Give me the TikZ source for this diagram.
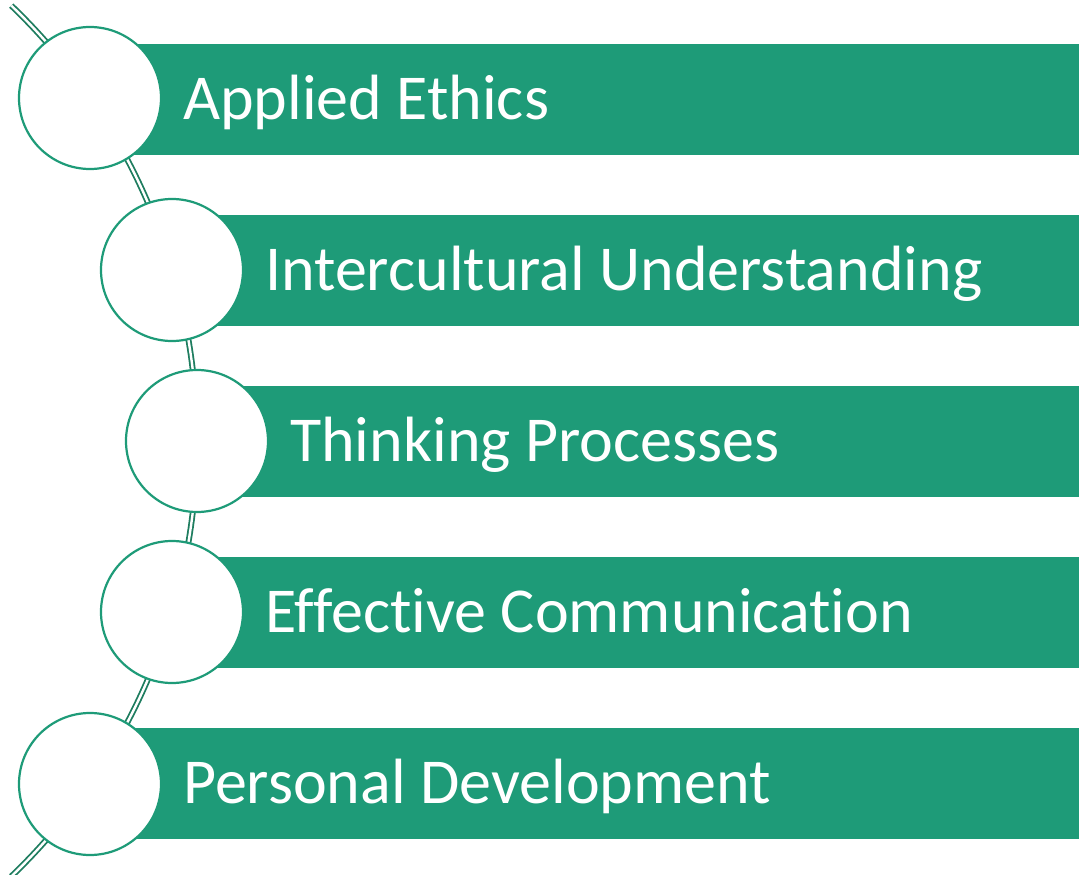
\documentclass[tikz,border=0pt]{standalone}
\usepackage{fontspec}
\setmainfont{Carlito}[Ligatures={NoCommon}]
\definecolor{barg}{RGB}{30,155,120}
\definecolor{lineg}{RGB}{30,125,95}
\begin{document}
\begin{tikzpicture}[x=1pt,y=-1pt,
  bar/.style={fill=barg,draw=none},
  bubble/.style={circle,draw=barg,line width=2.2pt,fill=white,minimum size=142pt,inner sep=0pt},
  label/.style={anchor=base west,text=white,font=\fontsize{64}{76}\selectfont,inner sep=0pt},
  spine/.style={draw=lineg,line width=1.8pt,double=white,double distance=2.4pt}]
\useasboundingbox (0,0) rectangle (1082,875);
% spine arc
\coordinate (C) at (-406.3,441);
\coordinate (top) at ([shift={(46.2:603.3pt)}]C);
\draw[spine] (top) arc[start angle=46.2,end angle=-46.2,radius=603.3pt] coordinate (bot);
% bars
\foreach \i/\cx/\cy in {1/90/99.5,2/172/270.5,3/197/441.5,4/172/612.5,5/90/783.5}{
  \fill[bar] (\cx,\cy-55.5) rectangle (1079,\cy+55.5);
}
% circles
\node[bubble] (c1) at (90,98) {};
\node[bubble] (c2) at (172,270) {};
\node[bubble] (c3) at (197,441) {};
\node[bubble] (c4) at (172,612) {};
\node[bubble] (c5) at (90,784) {};
% labels
\node[label] (t1) at (183,119) {Applied Ethics};
\node[label] (t2) at (265,290) {Intercultural Understanding};
\node[label] (t3) at (290,461) {Thinking Processes};
\node[label] (t4) at (265,632) {Effective Communication};
\node[label] (t5) at (183,803) {Personal Development};
\end{tikzpicture}
\end{document}
